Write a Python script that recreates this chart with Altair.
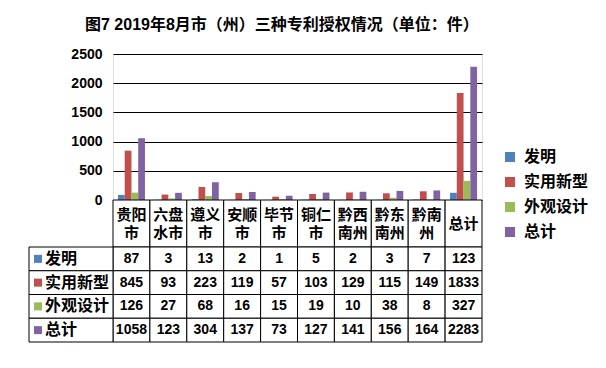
import altair as alt
import pandas as pd

categories = ["贵阳市", "六盘水市", "遵义市", "安顺市", "毕节市", "铜仁市", "黔西南州", "黔东南州", "黔南州", "总计"]
header_labels = ["贵阳\n市", "六盘\n水市", "遵义\n市", "安顺\n市", "毕节\n市", "铜仁\n市", "黔西\n南州", "黔东\n南州", "黔南\n州", "总计"]
series = ["发明", "实用新型", "外观设计", "总计"]
invention = [87, 3, 13, 2, 1, 5, 2, 3, 7, 123]
utility = [845, 93, 223, 119, 57, 103, 129, 115, 149, 1833]
design = [126, 27, 68, 16, 15, 19, 10, 38, 8, 327]
total = [1058, 123, 304, 137, 73, 127, 141, 156, 164, 2283]
colors = ["#4F81BD", "#C0504D", "#9BBB59", "#8064A2"]
y_ticks = [0, 500, 1000, 1500, 2000, 2500]
title_text = "图7 2019年8月市（州）三种专利授权情况（单位：件）"

FONT = "'Liberation Sans', 'Noto Sans CJK SC', sans-serif"

rows = []
for s, vals in zip(series, [invention, utility, design, total]):
    for c, v in zip(categories, vals):
        rows.append({"cat": c, "series": s, "value": v})
df = pd.DataFrame(rows)
hdr = pd.DataFrame({"cat": categories, "label": header_labels})
sdf = pd.DataFrame({"series": series})

W, H = 369, 146
HDR_BOTTOM = 193
TABLE_BOTTOM = 288
LH = 18

xs = alt.X("cat:N", sort=categories,
           scale=alt.Scale(domain=categories, paddingInner=0, paddingOuter=0), axis=None)
ys_row = alt.Y("series:N", sort=series,
               scale=alt.Scale(domain=series, range=[HDR_BOTTOM, TABLE_BOTTOM], paddingInner=0, paddingOuter=0),
               axis=None)
color = alt.Color("series:N", sort=series, scale=alt.Scale(domain=series, range=colors),
                  legend=alt.Legend(title=None, orient="none", legendX=389, legendY=95,
                                    symbolType="square", symbolSize=100, symbolStrokeWidth=0,
                                    labelFont=FONT, labelFontSize=16, labelFontWeight="bold",
                                    labelColor="black", labelOffset=6, rowPadding=9, padding=0))

bars = alt.Chart(df).mark_bar().encode(
    x=xs,
    xOffset=alt.XOffset("series:N", sort=series,
                        scale=alt.Scale(domain=series, paddingInner=0, paddingOuter=0.73)),
    y=alt.Y("value:Q", scale=alt.Scale(domain=[0, 2500], nice=False),
            axis=alt.Axis(title=None, values=y_ticks, format="d", grid=True, gridColor="black",
                          gridOpacity=1, gridWidth=1, domain=False, ticks=False, labelFont=FONT,
                          labelFontSize=14, labelFontWeight="bold", labelColor="black",
                          labelPadding=11)),
    color=color,
)

hdr_rect = alt.Chart(hdr).mark_rect(fill="white", stroke="black", strokeWidth=1).encode(
    x=xs, y=alt.value(H), y2=alt.value(HDR_BOTTOM))
hdr_center = (H + HDR_BOTTOM) / 2
text_style = dict(lineBreak="\n", lineHeight=LH, font=FONT, fontSize=15, fontWeight="bold",
                  color="black", baseline="middle")
hdr_text2 = alt.Chart(hdr).mark_text(**text_style).encode(
    x=xs, y=alt.value(hdr_center - LH / 2), text="label:N"
).transform_filter("indexof(datum.label, '\\n') >= 0")
hdr_text1 = alt.Chart(hdr).mark_text(**text_style).encode(
    x=xs, y=alt.value(hdr_center), text="label:N"
).transform_filter("indexof(datum.label, '\\n') < 0")

body_rect = alt.Chart(df).mark_rect(fill="white", stroke="black", strokeWidth=1).encode(
    x=xs, y=ys_row)
body_text = alt.Chart(df).mark_text(font=FONT, fontSize=14, fontWeight="bold", color="black",
                                    baseline="middle").encode(
    x=xs, y=ys_row, text="value:Q")

left_rect = alt.Chart(sdf).mark_rect(fill="white", stroke="black", strokeWidth=1).encode(
    x=alt.value(-84), x2=alt.value(0), y=ys_row)
left_sq = alt.Chart(sdf).mark_square(size=64, opacity=1).encode(
    x=alt.value(-75), y=ys_row, color=color)
left_text = alt.Chart(sdf).mark_text(align="left", font=FONT, fontSize=16, fontWeight="bold",
                                     color="black", baseline="middle").encode(
    x=alt.value(-68), y=ys_row, text="series:N")

chart = alt.layer(
    bars, hdr_rect, hdr_text2, hdr_text1, body_rect, body_text, left_rect, left_sq, left_text
).resolve_scale(y="independent").properties(
    width=W, height=H,
    autosize=alt.AutoSizeParams(type="none"),
    padding={"left": 105, "top": 46, "right": 116, "bottom": 160},
    title=alt.TitleParams(title_text, anchor="start", frame="group", dx=-28, offset=14,
                          font=FONT, fontSize=16, fontWeight="bold", color="black"),
).configure_view(stroke="black", strokeWidth=1).configure(background="white")

chart.save("out.html", embed_options={"renderer": "svg", "actions": False})
